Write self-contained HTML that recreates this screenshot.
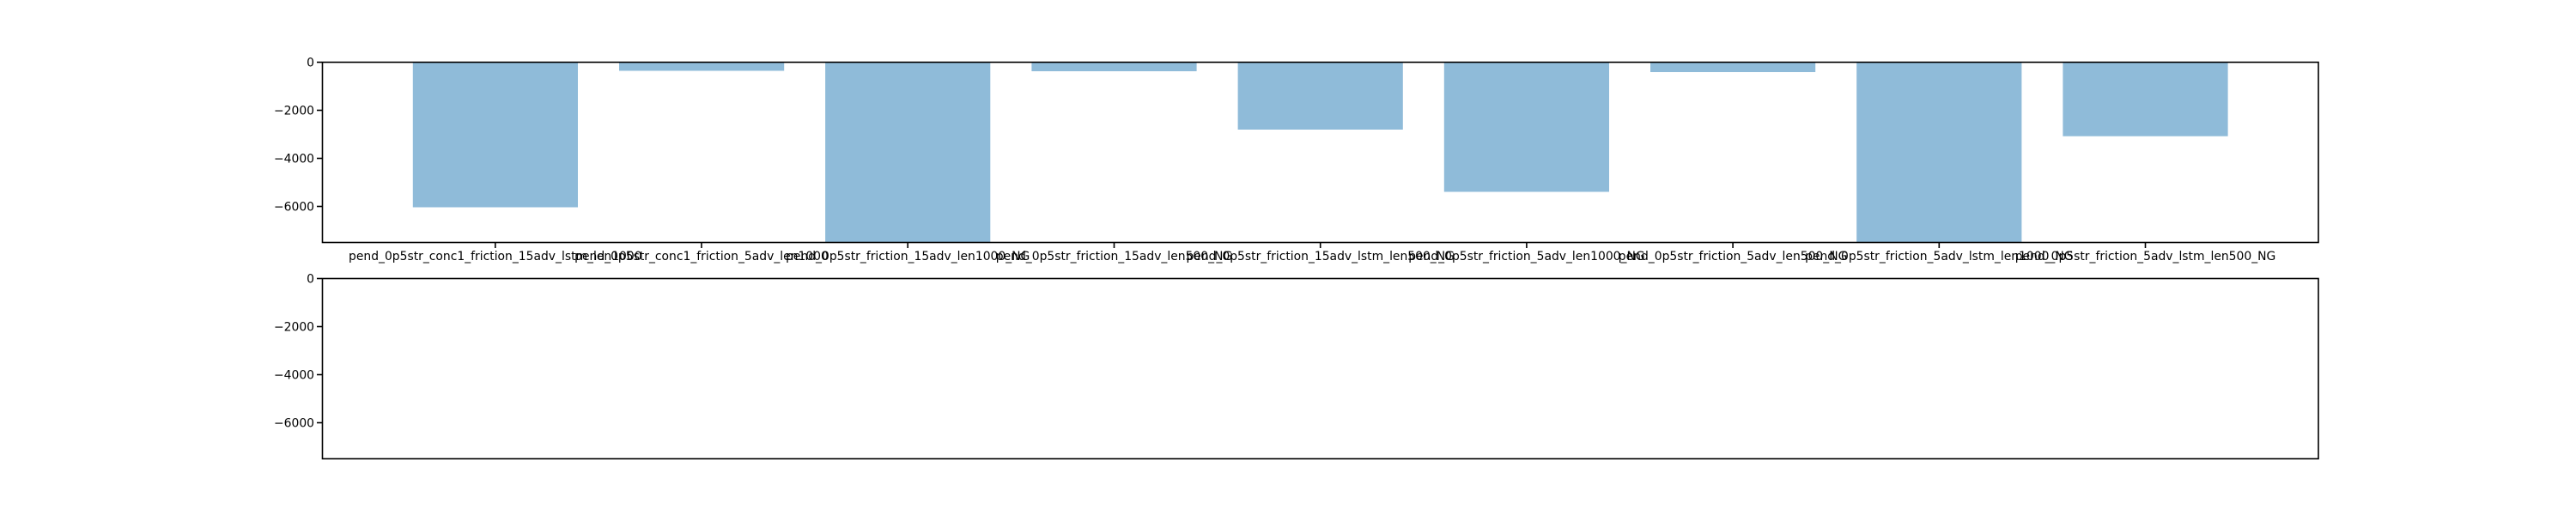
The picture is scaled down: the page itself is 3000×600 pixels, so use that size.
<!DOCTYPE html>
<html><head><meta charset="utf-8"><style>html,body{margin:0;padding:0;background:#fff}svg{display:block}</style></head>
<body>
<svg width="3000" height="600" xmlns="http://www.w3.org/2000/svg" font-family="DejaVu Sans, Liberation Sans, sans-serif" font-size="13.9">
<rect width="3000" height="600" fill="#fff"/>
<g fill="#8fbbd9">
<rect x="480.8" y="72" width="192.2" height="169.5"/>
<rect x="721" y="72" width="192.2" height="10.5"/>
<rect x="961.1" y="72" width="192.2" height="210"/>
<rect x="1201.4" y="72" width="192.2" height="11"/>
<rect x="1441.6" y="72" width="192.2" height="79"/>
<rect x="1681.8" y="72" width="192.2" height="151.5"/>
<rect x="1922" y="72" width="192.2" height="12"/>
<rect x="2162.2" y="72" width="192.2" height="210"/>
<rect x="2402.4" y="72" width="192.2" height="86.7"/>
</g>
<rect x="375.5" y="72.5" width="2324.5" height="210" fill="none" stroke="#000" stroke-width="1.6"/>
<rect x="375.5" y="324.5" width="2324.5" height="210" fill="none" stroke="#000" stroke-width="1.6"/>
<g stroke="#000" stroke-width="1.6">
<line x1="369" y1="72.5" x2="375" y2="72.5"/><line x1="369" y1="128.5" x2="375" y2="128.5"/><line x1="369" y1="184.5" x2="375" y2="184.5"/><line x1="369" y1="240.5" x2="375" y2="240.5"/>
<line x1="369" y1="324.5" x2="375" y2="324.5"/><line x1="369" y1="380.5" x2="375" y2="380.5"/><line x1="369" y1="436.5" x2="375" y2="436.5"/><line x1="369" y1="492.5" x2="375" y2="492.5"/>
<line x1="576.8" y1="283" x2="576.8" y2="289"/><line x1="817" y1="283" x2="817" y2="289"/><line x1="1057.2" y1="283" x2="1057.2" y2="289"/><line x1="1297.5" y1="283" x2="1297.5" y2="289"/><line x1="1537.7" y1="283" x2="1537.7" y2="289"/><line x1="1777.9" y1="283" x2="1777.9" y2="289"/><line x1="2018.1" y1="283" x2="2018.1" y2="289"/><line x1="2258.3" y1="283" x2="2258.3" y2="289"/><line x1="2498.5" y1="283" x2="2498.5" y2="289"/>
</g>
<g text-anchor="end">
<text x="366" y="77.5">0</text><text x="366" y="133.5">−2000</text><text x="366" y="189.5">−4000</text><text x="366" y="245.5">−6000</text>
<text x="366" y="329.5">0</text><text x="366" y="385.5">−2000</text><text x="366" y="441.5">−4000</text><text x="366" y="497.5">−6000</text>
</g>
<g text-anchor="middle">
<text x="576.8" y="303">pend_0p5str_conc1_friction_15adv_lstm_len1000</text>
<text x="817" y="303">pend_0p5str_conc1_friction_5adv_len1000</text>
<text x="1057.2" y="303">pend_0p5str_friction_15adv_len1000_NG</text>
<text x="1297.5" y="303">pend_0p5str_friction_15adv_len500_NG</text>
<text x="1537.7" y="303">pend_0p5str_friction_15adv_lstm_len500_NG</text>
<text x="1777.9" y="303">pend_0p5str_friction_5adv_len1000_NG</text>
<text x="2018.1" y="303">pend_0p5str_friction_5adv_len500_NG</text>
<text x="2258.3" y="303">pend_0p5str_friction_5adv_lstm_len1000_NG</text>
<text x="2498.5" y="303">pend_0p5str_friction_5adv_lstm_len500_NG</text>
</g>
</svg>
</body></html>
